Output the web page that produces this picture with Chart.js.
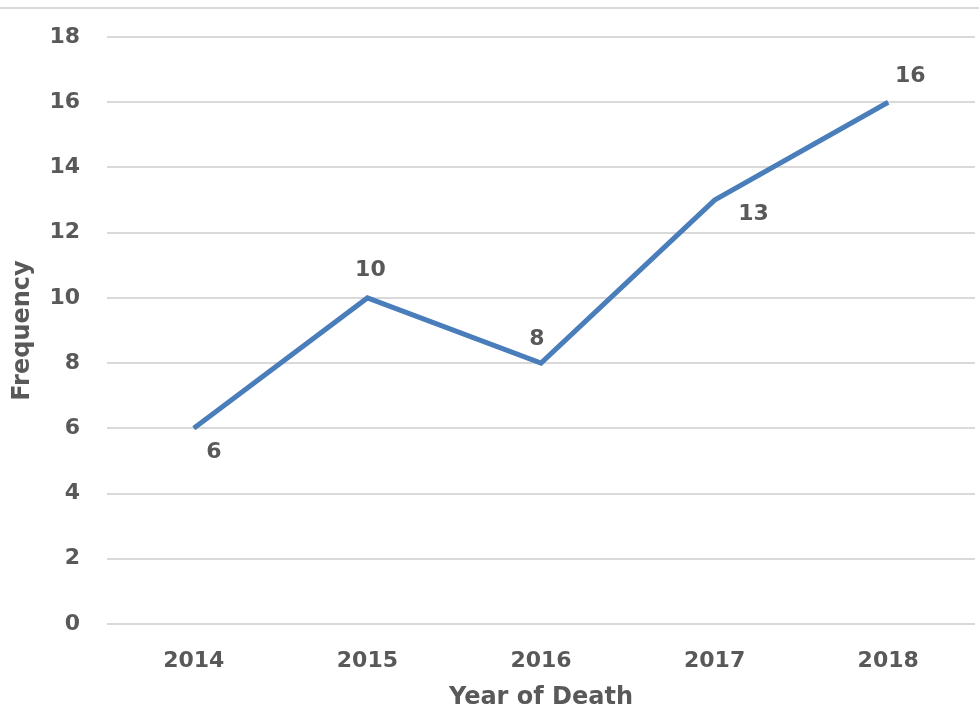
<!DOCTYPE html>
<html>
<head>
<meta charset="utf-8">
<script src="https://cdn.jsdelivr.net/npm/chart.js@4/dist/chart.umd.min.js"></script>
<style>
html,body{margin:0;padding:0;background:#fff;}
#wrap{width:979px;height:712px;position:relative;}
</style>
</head>
<body>
<div id="wrap"><canvas id="c"></canvas></div>
<script>
const categories = ['2014', '2015', '2016', '2017', '2018'];
const frequency = [6, 10, 8, 13, 16];
const yTicks = [0, 2, 4, 6, 8, 10, 12, 14, 16, 18];
const xTitle = 'Year of Death';
const yTitle = 'Frequency';

// label offsets (style only)
const labelOffsets = [[20, 24], [3, -28], [-4, -24], [39, 14], [22, -26]];

const FONT = "'DejaVu Sans', Verdana, sans-serif";
const TXT = '#595959';

const labelPlugin = {
  id: 'labels',
  afterDatasetsDraw(chart) {
    const ctx = chart.ctx;
    const meta = chart.getDatasetMeta(0);
    ctx.save();
    ctx.font = 'bold 22px ' + FONT;
    ctx.fillStyle = TXT;
    ctx.textAlign = 'center';
    ctx.textBaseline = 'middle';
    meta.data.forEach((pt, i) => {
      const o = labelOffsets[i];
      ctx.fillText(String(frequency[i]), pt.x + o[0], pt.y + o[1]);
    });
    ctx.restore();
  }
};

const framePlugin = {
  id: 'frame',
  beforeDraw(chart) {
    const ctx = chart.ctx;
    ctx.save();
    ctx.strokeStyle = '#d9d9d9';
    ctx.lineWidth = 2;
    ctx.beginPath();
    ctx.moveTo(0, 8);
    ctx.lineTo(chart.width, 8);
    ctx.stroke();
    ctx.restore();
  }
};

new Chart(document.getElementById('c'), {
  type: 'line',
  data: {
    labels: categories,
    datasets: [{
      data: frequency,
      borderColor: '#4a7ebb',
      borderWidth: 5,
      pointRadius: 0,
      tension: 0,
      fill: false
    }]
  },
  options: {
    responsive: true,
    maintainAspectRatio: false,
    animation: false,
    layout: { padding: { left: 0, right: 4, top: 37, bottom: 0 } },
    plugins: { legend: { display: false }, tooltip: { enabled: false } },
    scales: {
      x: {
        offset: true,
        grid: { display: false, drawTicks: false },
        border: { display: false },
        ticks: { color: TXT, font: { family: FONT, size: 22, weight: 'bold' }, padding: 24, maxRotation: 0 },
        title: { display: true, text: xTitle, color: TXT, font: { family: FONT, size: 24, weight: 'bold' }, padding: { top: 0, bottom: 0 } },
        afterFit(s) { s.height = 88; s.paddingLeft = 0; s.paddingRight = 0; }
      },
      y: {
        min: 0, max: 18,
        afterBuildTicks(s) { s.ticks = yTicks.map(v => ({ value: v })); },
        grid: { color: '#d9d9d9', lineWidth: 2, drawTicks: false },
        border: { display: false },
        ticks: { color: TXT, font: { family: FONT, size: 22, weight: 'bold' }, padding: 27 },
        title: { display: true, text: yTitle, color: TXT, font: { family: FONT, size: 24, weight: 'bold' }, padding: { top: 8, bottom: 0 } },
        afterFit(s) { s.width = 107; s.paddingTop = 0; s.paddingBottom = 0; }
      }
    }
  },
  plugins: [labelPlugin, framePlugin]
});
</script>
</body>
</html>
